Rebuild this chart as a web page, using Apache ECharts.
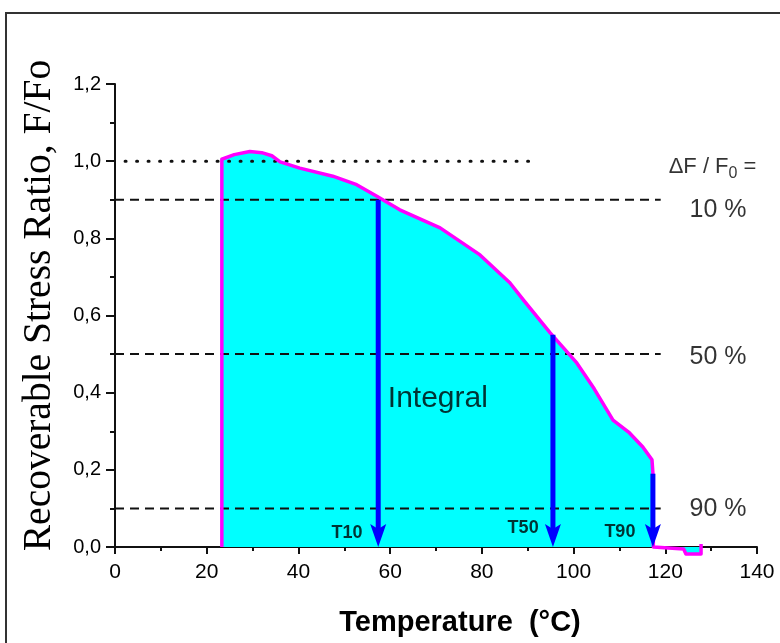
<!DOCTYPE html>
<html>
<head>
<meta charset="utf-8">
<script src="https://cdn.jsdelivr.net/npm/echarts@6/dist/echarts.min.js"></script>
<style>
html,body{margin:0;padding:0;background:#fff;}
#chart{width:780px;height:643px;}
</style>
</head>
<body>
<div id="chart"></div>
<script>
// ---- data ----
const tempC = [23.3, 23.3, 26, 29.4, 32, 34.2, 36, 40.3, 47.5, 52.7, 57.1, 62.1, 70.9, 79.6, 86.1, 89, 94.9, 100.7, 104.5, 108.6, 112, 115.1, 117.1, 117.3, 117.4, 117.5, 124, 124.5, 127.8, 127.8];
const stressRatio = [0, 1.005, 1.017, 1.025, 1.022, 1.014, 0.998, 0.982, 0.961, 0.939, 0.909, 0.874, 0.827, 0.757, 0.685, 0.641, 0.555, 0.477, 0.41, 0.329, 0.298, 0.259, 0.226, 0.192, 0, -0.005, -0.005, -0.018, -0.018, 0.008];

const refLevels = [0.9, 0.5, 0.1];
const refStartX = 0;
const refEndX = 119;
const unityLevel = 1.0;
const unityStartX = 2.2;
const unityEndX = 92;

const arrowNames = ['T10', 'T50', 'T90'];
const arrowX = [57.4, 95.5, 117.3];
const arrowTop = [0.9, 0.55, 0.19];
const arrowLabelX = [50.6, 89.0, 110.1];
const arrowLabelY = [0.036, 0.049, 0.039];

const pctLabels = ['10 %', '50 %', '90 %'];
const pctLabelX = [131.5, 131.5, 131.5];
const pctLabelY = [0.874, 0.493, 0.099];

const xTickLabels = ['0', '20', '40', '60', '80', '100', '120', '140'];
const yTickLabels = ['0,0', '0,2', '0,4', '0,6', '0,8', '1,0', '1,2'];

// ---- chart ----
const chart = echarts.init(document.getElementById('chart'));
const SANS = 'Liberation Sans, Arial, Helvetica, sans-serif';
const SERIF = 'Liberation Serif, Times New Roman, serif';
const INK = '#000';

const curve = tempC.map((x, i) => [x, stressRatio[i]]);

const series = [];
series.push({
  type: 'line', data: curve, symbol: 'none', clip: false, silent: true, z: 1,
  lineStyle: { width: 0 }, areaStyle: { color: '#00ffff', opacity: 1 }
});
refLevels.forEach(l => {
  series.push({
    type: 'line', data: [[refStartX, l], [refEndX, l]], symbol: 'none', silent: true, z: 3,
    lineStyle: { color: '#111', width: 2, type: [9, 6] }
  });
});
series.push({
  type: 'line', data: [[unityStartX, unityLevel], [unityEndX, unityLevel]], symbol: 'none', silent: true, z: 3,
  lineStyle: { color: '#111', width: 3, type: [1, 10.5], cap: 'round' }
});
series.push({
  type: 'line', data: curve, symbol: 'none', clip: false, silent: true, z: 4,
  lineStyle: { color: '#ff00ff', width: 3.5, join: 'round' }
});
series.push({
  type: 'custom', z: 5, silent: true,
  data: arrowX.map((x, i) => [x, arrowTop[i]]),
  renderItem: function (params, api) {
    const x = api.value(0), top = api.value(1);
    const p0 = api.coord([x, top]);
    const p1 = api.coord([x, 0]);
    const hl = 23, hw = 8;
    return {
      type: 'group',
      children: [
        { type: 'line', shape: { x1: p0[0], y1: p0[1], x2: p1[0], y2: p1[1] - hl + 6 },
          style: { stroke: '#0000ff', lineWidth: 5 } },
        { type: 'polygon', shape: { points: [[p1[0], p1[1]], [p1[0] - hw, p1[1] - hl], [p1[0], p1[1] - hl + 5], [p1[0] + hw, p1[1] - hl]] },
          style: { fill: '#0000ff' } }
      ]
    };
  }
});

const annos = [];
arrowNames.forEach((t, i) => {
  annos.push({ value: [arrowLabelX[i], arrowLabelY[i]],
    label: { formatter: t, fontSize: 18, fontWeight: 'bold', color: INK, fontFamily: SANS, textBorderWidth: 0 } });
});
pctLabels.forEach((t, i) => {
  annos.push({ value: [pctLabelX[i], pctLabelY[i]],
    label: { formatter: t, fontSize: 25, color: INK, fontFamily: SANS, textBorderWidth: 0 } });
});
annos.push({ value: [70.4, 0.384],
  label: { formatter: 'Integral', fontSize: 30, color: INK, fontFamily: SANS, textBorderWidth: 0 } });
annos.push({ value: [130.3, 0.985],
  label: { formatter: '{a|ΔF / F}{s|0}{a| =}', color: INK, textBorderWidth: 0,
    rich: {
      a: { fontSize: 22, fontFamily: SANS, color: INK, lineHeight: 30, verticalAlign: 'middle', textBorderWidth: 0 },
      s: { fontSize: 16, fontFamily: SANS, color: INK, lineHeight: 30, verticalAlign: 'middle', padding: [14, 0, 0, 0], textBorderWidth: 0 }
    } } });

series.push({
  type: 'scatter', z: 6, silent: true, symbolSize: 0,
  data: annos,
  label: { show: true, position: 'inside', color: INK, textBorderWidth: 0 }
});

chart.setOption({
  animation: false,
  backgroundColor: '#fff',
  grid: { left: 115, right: 23, top: 84, bottom: 96, containLabel: false },
  xAxis: {
    type: 'value', min: 0, max: 140, interval: 20,
    name: 'Temperature  (°C)', nameLocation: 'middle', nameGap: 61,
    nameTextStyle: { fontSize: 29, fontWeight: 'bold', color: INK, fontFamily: SANS, padding: [0, 0, 0, 48] },
    axisLine: { lineStyle: { color: '#111', width: 2 } },
    axisTick: { length: 7, lineStyle: { color: '#111', width: 2 } },
    minorTick: { show: true, splitNumber: 2, length: 4, lineStyle: { color: '#111', width: 2 } },
    splitLine: { show: false },
    axisLabel: { fontSize: 21, color: INK, fontFamily: SANS, margin: 15,
      formatter: v => xTickLabels[Math.round(v / 20)] }
  },
  yAxis: {
    type: 'value', min: 0, max: 1.2, interval: 0.2,
    name: 'Recoverable Stress Ratio, F/Fo', nameLocation: 'middle', nameGap: 55,
    nameTextStyle: { fontSize: 39.5, color: INK, fontFamily: SERIF, padding: [0, 0, 0, 20] },
    axisLine: { show: true, lineStyle: { color: '#111', width: 2 } },
    axisTick: { length: 9, lineStyle: { color: '#111', width: 2 } },
    minorTick: { show: true, splitNumber: 2, length: 5, lineStyle: { color: '#111', width: 2 } },
    splitLine: { show: false },
    axisLabel: { fontSize: 20, color: INK, fontFamily: SANS, margin: 14,
      formatter: v => yTickLabels[Math.round(v / 0.2)] }
  },
  graphic: [{
    type: 'rect', shape: { x: 6, y: 13, width: 820, height: 700 },
    style: { fill: 'none', stroke: '#333', lineWidth: 2 }, z: 100, silent: true
  }],
  series: series
});
</script>
</body>
</html>
